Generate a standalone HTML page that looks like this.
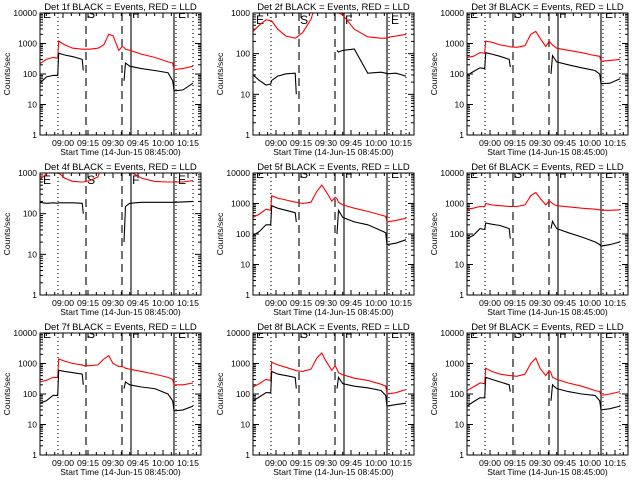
<!DOCTYPE html>
<html><head><meta charset="utf-8"><style>
html,body{margin:0;padding:0;background:#fff;}
svg{display:block;font-family:"Liberation Sans",sans-serif;}
</style></head><body>
<svg id="chart" width="640" height="480" xmlns="http://www.w3.org/2000/svg"></svg>
<script>
// shared time grid, minutes after 08:45
const times = [1.2,5,9,11.8,12.4,16,21,26.5,27.2,31,36,39.5,42.5,45,48.5,50.5,51.6,52.5,55,62,70,78,80.8,81.6,87,93];
const xTickMinutes = [15,30,45,60,75,90];
const xTickLabels = ["09:00","09:15","09:30","09:45","10:00","10:15"];
const markerMinutes = [12,28.8,50.4,55.8,81.6,82.8,93];
const markerStyles = ["dot","dash","dash","solid","solid","dot","dot"];
const phaseMinutes = [3,29.5,56.5,84];
const phaseLetters = ["E","S","F","E"];
const detNames = ["1f","2f","3f","4f","5f","6f","7f","8f","9f"];
const yMaxes = [10000,1000,10000,1000,10000,10000,10000,10000,10000];
const N = null;
const black1 = [50,80,90,90,480,420,370,300,130,N,N,N,N,N,N,N,60,230,180,150,130,110,60,28,30,50];
const red1 = [220,300,350,330,1200,900,700,650,650,650,700,900,2000,1800,600,800,750,650,600,450,350,250,230,140,150,180];
const black2 = [30,22,17,18,22,28,32,33,10,N,N,N,N,N,N,N,120,110,120,130,33,35,33,32,33,28];
const red2 = [350,500,680,650,640,400,270,240,250,330,700,2000,3000,3000,2000,1400,1200,1000,900,400,260,240,240,250,270,300];
const black3 = [90,120,160,150,500,450,380,300,170,N,N,N,N,N,N,N,100,400,250,200,160,130,100,48,50,70];
const red3 = [350,380,500,480,1200,1100,900,800,780,750,850,2000,2500,1500,800,1200,1000,900,700,600,500,400,380,260,280,300];
const black4 = [190,180,185,180,185,185,185,180,100,N,N,N,N,N,N,N,20,150,180,190,190,190,190,190,195,200];
const red4 = [700,950,1500,1100,1000,750,620,600,600,650,800,2000,3000,3000,3000,3000,2500,2000,1100,750,620,600,600,600,600,650];
const black5 = [90,120,200,200,850,700,600,500,250,N,N,N,N,N,N,N,100,600,350,250,200,130,110,45,50,65];
const red5 = [350,450,650,600,1800,1500,1300,1100,1100,1000,1100,2500,4000,2500,1200,1600,1400,1100,900,700,550,420,380,250,280,330];
const black6 = [70,90,150,140,230,210,190,150,70,N,N,N,N,N,N,N,150,260,150,110,80,55,45,40,45,55];
const red6 = [650,700,800,780,1000,900,850,800,800,800,900,1800,2300,1500,900,1200,1100,1000,850,780,700,650,620,600,600,620];
const black7 = [50,60,90,90,600,550,500,450,200,N,N,N,N,N,N,N,150,250,200,170,150,100,60,28,30,40];
const red7 = [250,280,350,350,1400,1200,1000,900,850,850,900,1400,1800,1000,800,800,750,700,650,550,450,350,300,200,200,230];
const black8 = [60,80,110,110,550,450,400,350,150,N,N,N,N,N,N,N,150,350,220,180,160,130,90,40,45,50];
const red8 = [170,220,300,280,1100,900,750,600,580,550,650,1500,2200,1200,600,850,650,500,430,330,280,210,180,100,110,140];
const black9 = [40,55,75,75,350,300,250,200,120,N,N,N,N,N,N,N,60,200,150,120,100,90,60,30,33,40];
const red9 = [130,170,230,220,700,550,450,400,400,380,450,1000,1500,700,400,600,500,350,300,230,180,130,120,90,100,120];
const blacks=[black1,black2,black3,black4,black5,black6,black7,black8,black9];
const reds=[red1,red2,red3,red4,red5,red6,red7,red8,red9];

const NS="http://www.w3.org/2000/svg";
const svg=document.getElementById('chart');
function mk(tag,attrs,parent){const e=document.createElementNS(NS,tag);for(const k in attrs)e.setAttribute(k,attrs[k]);(parent||svg).appendChild(e);return e;}
const colX=[40,253,467], rowY=[13,173,333], W=161, H=122;
const T0=1.2, T1=1.2+W*0.6;

for(let p=0;p<9;p++){
  const bx=colX[p%3], by=rowY[Math.floor(p/3)];
  const ymax=yMaxes[p], dec=Math.log10(ymax);
  const xs=m=>bx+(m-T0)/(T1-T0)*W;
  const ys=v=>by+H-(Math.log10(v))/dec*H;
  const g=mk('g',{});
  
  
  const cid='clip'+p;
  const cp=mk('clipPath',{id:cid},g); mk('rect',{x:bx,y:by,width:W,height:H},cp);
  const t=mk('text',{x:bx+W/2,y:by-3,'text-anchor':'middle','font-size':'9.5'},g);
  t.textContent='Det '+detNames[p]+' BLACK = Events, RED = LLD';
  
  
  for(let d=0;d<=dec;d++){
    const v=Math.pow(10,d), y=ys(v);
    const l=mk('text',{x:bx-3,y:y+3,'text-anchor':'end','font-size':'8.5'},g);
    l.textContent=String(v);
    
    
    mk('line',{x1:bx,x2:bx+6,y1:y,y2:y,stroke:'#000'},g);
    mk('line',{x1:bx+W-6,x2:bx+W,y1:y,y2:y,stroke:'#000'},g);
    if(d<dec){for(let k=2;k<10;k++){const yy=ys(v*k);
      mk('line',{x1:bx,x2:bx+3,y1:yy,y2:yy,stroke:'#000'},g);
      mk('line',{x1:bx+W-3,x2:bx+W,y1:yy,y2:yy,stroke:'#000'},g);}}
  }
  const yt=mk('text',{x:0,y:0,'text-anchor':'middle','font-size':'8.5',transform:`translate(${bx-30},${by+H/2}) rotate(-90)`},g);
  yt.textContent='Counts/sec';
  
  
  for(let i=0;i<xTickMinutes.length;i++){
    const x=xs(xTickMinutes[i]);
    mk('line',{x1:x,x2:x,y1:by+H,y2:by+H-5,stroke:'#000'},g);
    mk('line',{x1:x,x2:x,y1:by,y2:by+5,stroke:'#000'},g);
    const l=mk('text',{x:x,y:by+H+11,'text-anchor':'middle','font-size':'8.5','textLength':'22','lengthAdjust':'spacingAndGlyphs'},g);
    l.textContent=xTickLabels[i];
    
    
  }
  for(let m=5;m<T1;m+=5){const x=xs(m);
    mk('line',{x1:x,x2:x,y1:by+H,y2:by+H-3,stroke:'#000'},g);
    mk('line',{x1:x,x2:x,y1:by,y2:by+3,stroke:'#000'},g);}
  const xt=mk('text',{x:bx+W/2,y:by+H+20,'text-anchor':'middle','font-size':'8.5'},g);
  xt.textContent='Start Time (14-Jun-15 08:45:00)';
  
  
  const inner=mk('g',{'clip-path':`url(#${cid})`},g);
  for(let i=0;i<phaseLetters.length;i++){
    const lt=mk('text',{x:xs(phaseMinutes[i]),y:ymax>1000?by+5:by+11,'font-size':'12'},inner);
    lt.textContent=phaseLetters[i];
    
    
  }
  for(let i=0;i<markerMinutes.length;i++){
    const x=xs(markerMinutes[i]);
    const st=markerStyles[i];
    const ln=mk('line',{x1:x,x2:x,y1:by,y2:by+H,stroke:'#000','stroke-width':1.1,'stroke-dasharray':st==='dot'?'1,3':st==='dash'?'8,5':'none'},inner);
    
    
  }
  function draw(arr,color,name){
    let d='',pen=false;
    for(let i=0;i<times.length;i++){
      if(arr[i]==null){pen=false;continue;}
      d+=(pen?'L':'M')+xs(times[i]).toFixed(1)+' '+ys(arr[i]).toFixed(1)+' ';pen=true;
    }
    const pth=mk('path',{d:d,fill:'none',stroke:color,'stroke-width':1.1},inner);
    
    
  }
  draw(reds[p],'#ff0000','lld-series');
  draw(blacks[p],'#000000','events-series');
  mk('rect',{x:bx,y:by,width:W,height:H,fill:'none',stroke:'#000'},g);
}
</script>
</body></html>
